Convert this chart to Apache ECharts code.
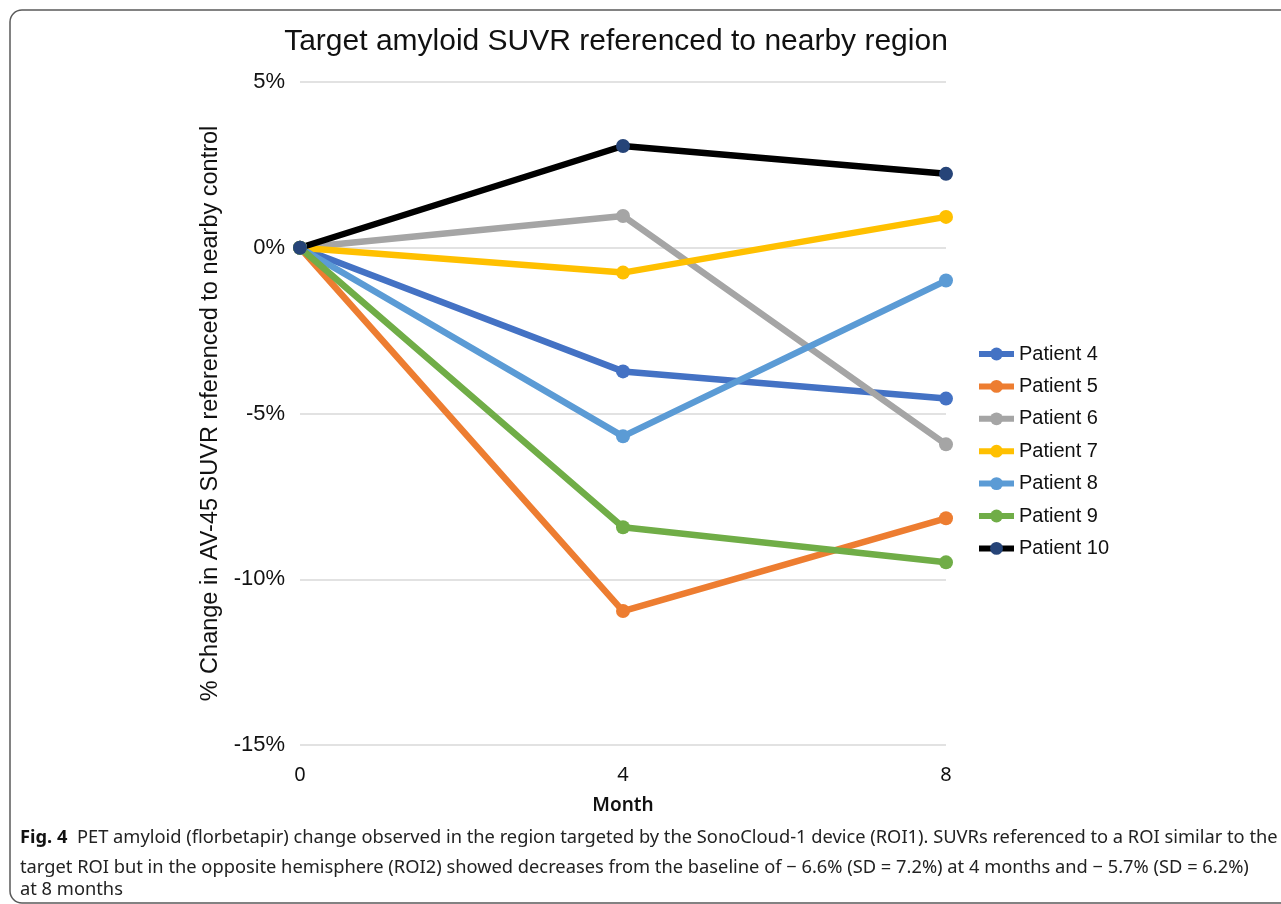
<!DOCTYPE html>
<html>
<head>
<meta charset="utf-8">
<script src="https://cdn.jsdelivr.net/npm/echarts@6/dist/echarts.min.js"></script>
<style>html,body{margin:0;padding:0;background:#fff}#c{width:1281px;height:904px}</style>
</head>
<body>
<div id="c"></div>
<script>
const months = ['0', '4', '8'];
const patientNames = ['Patient 4', 'Patient 5', 'Patient 6', 'Patient 7', 'Patient 8', 'Patient 9', 'Patient 10'];
const patient4 = [0, -3.73, -4.55];
const patient5 = [0, -10.96, -8.16];
const patient6 = [0, 0.96, -5.93];
const patient7 = [0, -0.75, 0.93];
const patient8 = [0, -5.69, -0.99];
const patient9 = [0, -8.43, -9.49];
const patient10 = [0, 3.07, 2.23];
const yTicks = [-15, -10, -5, 0, 5];

const seriesValues = [patient4, patient5, patient6, patient7, patient8, patient9, patient10];
const lineColors = ['#4472C4', '#ED7D31', '#A5A5A5', '#FFC000', '#5B9BD5', '#70AD47', '#000000'];
const markerColors = ['#4472C4', '#ED7D31', '#A5A5A5', '#FFC000', '#5B9BD5', '#70AD47', '#264478'];

const chart = echarts.init(document.getElementById('c'), null, {renderer: 'canvas'});
const series = patientNames.map((name, i) => ({
  name: name,
  type: 'line',
  data: seriesValues[i],
  symbol: 'circle',
  symbolSize: 14,
  showSymbol: true,
  lineStyle: {color: lineColors[i], width: 6.5},
  itemStyle: {color: markerColors[i], borderWidth: 0},
  emphasis: {disabled: true},
  animation: false
}));

const capFont = 'Liberation Sans Narrow, Noto Sans, sans-serif';

chart.setOption({
  animation: false,
  backgroundColor: '#ffffff',
  title: {
    text: 'Target amyloid SUVR referenced to nearby region',
    left: 611, textAlign: 'center', top: 22,
    textStyle: {fontFamily: 'Liberation Sans, Arial, sans-serif', fontSize: 30, fontWeight: 'normal', color: '#111'}
  },
  grid: {left: 300, right: 335, top: 82, bottom: 159, containLabel: false},
  legend: {
    orient: 'vertical', left: 971, top: 339,
    itemWidth: 35, itemHeight: 16, itemGap: 12.4,
    lineStyle: {width: 6},
    textStyle: {fontFamily: 'Liberation Sans, Arial, sans-serif', fontSize: 20, color: '#111'},
    data: patientNames
  },
  xAxis: {
    type: 'category', data: months, boundaryGap: false,
    name: 'Month', nameLocation: 'middle', nameGap: 51,
    nameTextStyle: {fontFamily: 'Noto Sans, Open Sans, sans-serif', fontSize: 19, fontWeight: 600, color: '#111'},
    axisLine: {show: false}, axisTick: {show: false},
    axisLabel: {margin: 20, fontFamily: 'Noto Sans, Open Sans, sans-serif', fontSize: 20, color: '#111'}
  },
  yAxis: {
    type: 'value', min: -15, max: 5, interval: 5,
    name: '% Change in AV-45 SUVR referenced to nearby control',
    nameLocation: 'middle', nameGap: 76, nameRotate: 90,
    nameTextStyle: {fontFamily: 'Liberation Sans, Arial, sans-serif', fontSize: 23.5, color: '#111'},
    axisLine: {show: false}, axisTick: {show: false},
    axisLabel: {margin: 15, fontFamily: 'Liberation Sans, Arial, sans-serif', fontSize: 22, color: '#111',
      formatter: v => yTicks.includes(v) ? v + '%' : ''},
    splitLine: {lineStyle: {color: '#d9d9d9', width: 1.5}}
  },
  series: series,
  graphic: [
    {type: 'rect', shape: {x: 10, y: 10, width: 1300, height: 893, r: 12},
     style: {fill: 'none', stroke: '#5a5a5a', lineWidth: 1.5}, silent: true},
    {type: 'text', left: 20, top: 829, style: {
      text: '{b|Fig. 4}  PET amyloid (florbetapir) change observed in the region targeted by the SonoCloud-1 device (ROI1). SUVRs referenced to a ROI similar to the',
      rich: {b: {fontWeight: 'bold', fontSize: 18.3, fontFamily: capFont, fill: '#111'}},
      fontFamily: capFont, fontSize: 18.3, fill: '#222'}},
    {type: 'text', left: 20, top: 859, style: {
      text: 'target ROI but in the opposite hemisphere (ROI2) showed decreases from the baseline of \u2212 6.6% (SD = 7.2%) at 4 months and \u2212 5.7% (SD = 6.2%)',
      fontFamily: capFont, fontSize: 18.3, fill: '#222'}},
    {type: 'text', left: 20, top: 881, style: {
      text: 'at 8 months',
      fontFamily: capFont, fontSize: 18.3, fill: '#222'}}
  ]
});
</script>
</body>
</html>
